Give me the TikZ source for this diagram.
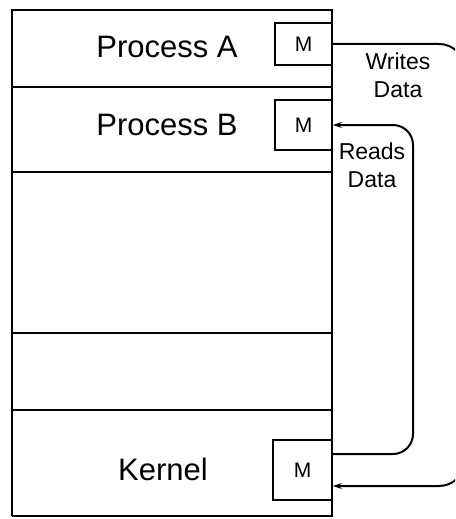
\documentclass[tikz,border=0pt]{standalone}
\usepackage{fontspec}
\setmainfont{Liberation Sans}
\usetikzlibrary{arrows.meta}
\begin{document}
\begin{tikzpicture}[x=1pt,y=-1pt,
  layer/.style={draw,line width=2pt},
  mbox/.style={draw,line width=1.8pt,inner sep=0pt,font=\fontsize{21}{24}\selectfont},
  big/.style={font=\fontsize{31}{36}\selectfont,anchor=base,inner sep=0pt},
  lab/.style={font=\fontsize{23}{28}\selectfont,align=center,inner sep=0pt},
  conn/.style={line width=2pt,-{Stealth[length=9pt,width=6pt]}}]
\useasboundingbox (0,0) rectangle (455,519);
\clip (0,0) rectangle (455,519);
% layers
\draw[layer] (12,516) -- (12,10) -- (332,10) -- (332,516) -- (12,516);
\draw[layer] (12,87) -- (332,87);
\draw[layer] (12,172) -- (332,172);
\draw[layer] (12,333) -- (332,333);
\draw[layer] (12,410) -- (332,410);
% texts
\node[big] (pa) at (167,57) {Process A};
\node[big] (pb) at (167,135) {Process B};
\node[big] (kn) at (163,480) {Kernel};
% M boxes
\node[mbox,minimum width=57pt,minimum height=42pt] (ma) at (303.5,44) {M};
\node[mbox,minimum width=57pt,minimum height=50pt] (mb) at (303.5,125) {M};
\node[mbox,minimum width=59pt,minimum height=60pt] (mk) at (302.5,470) {M};
% connectors
\coordinate (wr) at (465,0);
\coordinate (rd) at (413,0);
\draw[conn,rounded corners=26pt] (ma.east) -- (ma.east -| wr) -- ([yshift=-16pt]mk.east -| wr) -- ([yshift=-16pt]mk.east);
\draw[conn,rounded corners=20pt] ([yshift=16pt]mk.east) -- ([yshift=16pt]mk.east -| rd) -- (mb.east -| rd) -- (mb.east);
% labels
\node[lab] (wd) at (398,75) {Writes\\Data};
\node[lab] (rdl) at (372,165) {Reads\\Data};
\end{tikzpicture}
\end{document}
